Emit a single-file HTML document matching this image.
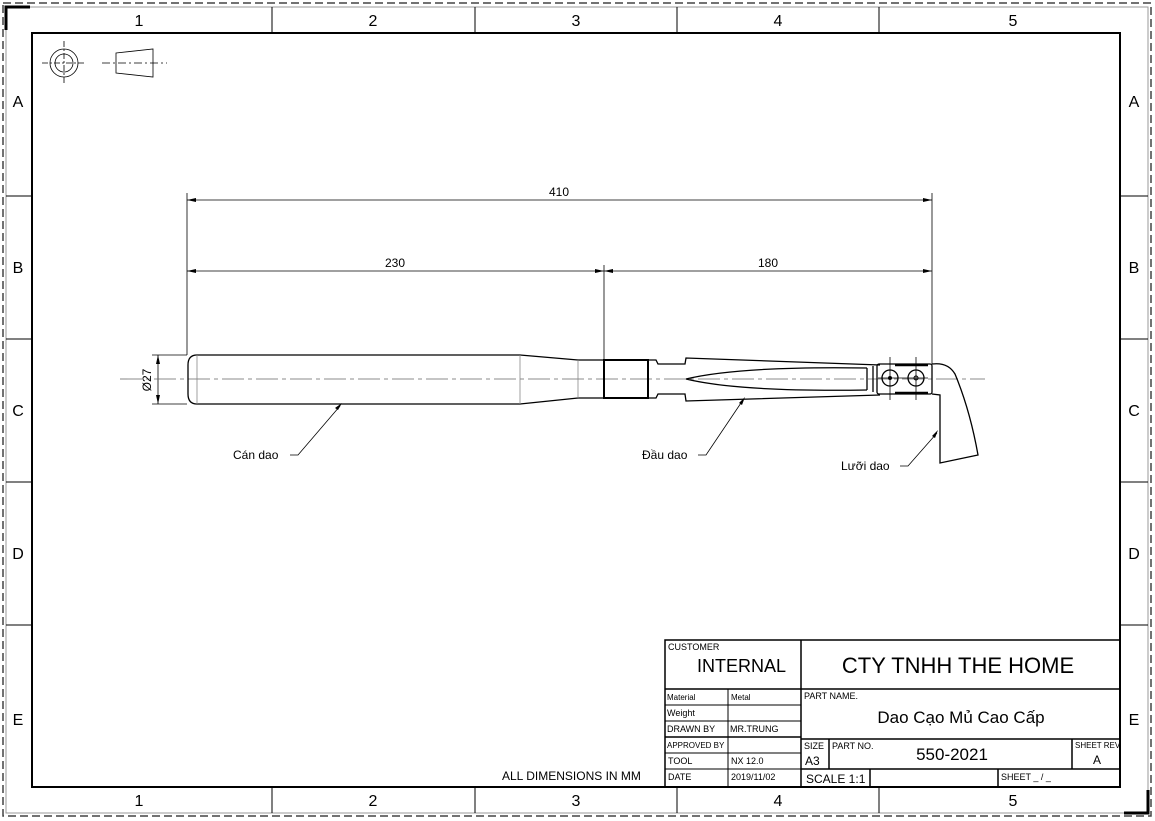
<!DOCTYPE html>
<html><head><meta charset="utf-8"><style>
html,body{margin:0;padding:0;background:#fff}
svg{display:block}
text{font-family:"Liberation Sans",sans-serif;fill:#000}
</style></head><body>
<svg width="1155" height="821" viewBox="0 0 1155 821" xmlns="http://www.w3.org/2000/svg">
<rect x="3" y="3" width="1148" height="813" fill="none" stroke="#444" stroke-width="1.5" stroke-dasharray="8,4"/>
<rect x="6" y="7" width="1142" height="806" fill="none" stroke="#999" stroke-width="1"/>
<path d="M6 30 V7 H30 M1124 813 H1148 V790" fill="none" stroke="#000" stroke-width="3"/>
<rect x="32" y="33" width="1088" height="754" fill="none" stroke="#000" stroke-width="2"/>
<g stroke="#000" stroke-width="1">
<line x1="272" y1="7" x2="272" y2="33"/><line x1="475" y1="7" x2="475" y2="33"/><line x1="677" y1="7" x2="677" y2="33"/><line x1="879" y1="7" x2="879" y2="33"/>
<line x1="272" y1="787" x2="272" y2="813"/><line x1="475" y1="787" x2="475" y2="813"/><line x1="677" y1="787" x2="677" y2="813"/><line x1="879" y1="787" x2="879" y2="813"/>
<line x1="6" y1="196" x2="32" y2="196"/><line x1="6" y1="339" x2="32" y2="339"/><line x1="6" y1="482" x2="32" y2="482"/><line x1="6" y1="625" x2="32" y2="625"/>
<line x1="1120" y1="196" x2="1148" y2="196"/><line x1="1120" y1="339" x2="1148" y2="339"/><line x1="1120" y1="482" x2="1148" y2="482"/><line x1="1120" y1="625" x2="1148" y2="625"/>
</g>
<g font-size="16" text-anchor="middle">
<text x="139" y="26">1</text><text x="373" y="26">2</text><text x="576" y="26">3</text><text x="778" y="26">4</text><text x="1013" y="26">5</text>
<text x="139" y="806">1</text><text x="373" y="806">2</text><text x="576" y="806">3</text><text x="778" y="806">4</text><text x="1013" y="806">5</text>
<text x="18" y="107">A</text><text x="18" y="273">B</text><text x="18" y="416">C</text><text x="18" y="559">D</text><text x="18" y="725">E</text>
<text x="1134" y="107">A</text><text x="1134" y="273">B</text><text x="1134" y="416">C</text><text x="1134" y="559">D</text><text x="1134" y="725">E</text>
</g>
<!-- projection symbol -->
<g fill="none" stroke="#000" stroke-width="0.8">
<circle cx="64" cy="63" r="14"/><circle cx="64" cy="63" r="9"/>
<line x1="42" y1="63" x2="86" y2="63" stroke-dasharray="6,2,2,2"/><line x1="64" y1="41" x2="64" y2="85" stroke-dasharray="6,2,2,2"/>
<path d="M116 53 L153 49 L153 77 L116 73 Z"/>
<line x1="102" y1="63" x2="167" y2="63" stroke-dasharray="8,3,2,3"/>
</g>
<!-- dimensions -->
<g stroke="#000" stroke-width="0.8" fill="none">
<line x1="187" y1="193" x2="187" y2="355"/><line x1="604" y1="265" x2="604" y2="360"/><line x1="932" y1="193" x2="932" y2="364"/>
<line x1="187" y1="200" x2="932" y2="200"/><line x1="187" y1="271" x2="932" y2="271"/>
<line x1="152" y1="355" x2="187" y2="355"/><line x1="152" y1="404" x2="187" y2="404"/><line x1="158" y1="355" x2="158" y2="404"/>
<line x1="120" y1="379" x2="985" y2="379" stroke="#666" stroke-dasharray="22,4,4,4"/>
</g>
<g fill="#000">
<path d="M187 200 l9 -2 v4z"/><path d="M932 200 l-9 -2 v4z"/>
<path d="M187 271 l9 -2 v4z"/><path d="M604 271 l-9 -2 v4z"/><path d="M604 271 l9 -2 v4z"/><path d="M932 271 l-9 -2 v4z"/>
<path d="M158 355 l-2 9 h4z"/><path d="M158 404 l-2 -9 h4z"/>
</g>
<g font-size="12" text-anchor="middle">
<text x="559" y="196">410</text><text x="395" y="267">230</text><text x="768" y="267">180</text>
<text transform="translate(151,380) rotate(-90)">Ø27</text>
</g>
<!-- part -->
<g fill="none" stroke="#000" stroke-width="1.3">
<path d="M197 355 H520 L578 360 H604 V398 H578 L520 404 H197 Q188 404 188 394 V365 Q188 355 197 355 Z"/>
<rect x="604" y="360" width="44" height="38" stroke-width="2"/>
<path d="M648 360 H656 L658 364 H685 L686 358 L880 365 M648 398 H656 L658 394 H685 L686 401 L880 395"/>
<path d="M686 379 Q740 366 867 368 M686 379 Q740 392 867 390"/>
<path d="M867 368 V390 M873 366 V392"/>
<rect x="877" y="364" width="55" height="30" rx="2"/>
<circle cx="890" cy="378" r="8"/><circle cx="916" cy="378" r="8"/>
<path d="M895 365 H928 M895 393 H928" stroke-width="2.5"/>
<path d="M932 364 Q948 362 955 374 Q970 410 978 455 L940 463 V395 L932 394"/>
</g>
<g stroke="#000" stroke-width="0.8"><line x1="890" y1="357" x2="890" y2="400"/><line x1="916" y1="357" x2="916" y2="400"/><line x1="878" y1="378" x2="928" y2="378"/></g>
<circle cx="890" cy="378" r="2" fill="#000"/><circle cx="916" cy="378" r="2" fill="none" stroke="#000"/>
<line x1="604" y1="340" x2="604" y2="420" stroke="none"/>
<g stroke="#888" stroke-width="0.8"><line x1="197" y1="355" x2="197" y2="404"/><line x1="520" y1="355" x2="520" y2="404"/><line x1="578" y1="360" x2="578" y2="398"/></g>
<!-- leaders -->
<g stroke="#000" stroke-width="0.8" fill="none">
<path d="M290 455 H298 L340 406"/><path d="M698 455 H706 L743 400"/><path d="M900 466 H908 L937 433"/>
</g>
<g fill="#000"><path d="M342 403 l-7 5 l3 2z"/><path d="M745 397 l-6 6 l3 2z"/><path d="M938 430 l-6 6 l3 2z"/></g>
<g font-size="12"><text x="233" y="459">Cán dao</text><text x="642" y="459">Đầu dao</text><text x="841" y="470">Lưỡi dao</text></g>
<text x="502" y="780" font-size="12">ALL DIMENSIONS IN MM</text>
<!-- title block -->
<g fill="none" stroke="#000" stroke-width="1.5">
<rect x="665" y="640" width="455" height="147"/>
<line x1="665" y1="689" x2="1120" y2="689"/>
<line x1="801" y1="640" x2="801" y2="787"/>
<line x1="801" y1="739" x2="1120" y2="739"/>
<line x1="801" y1="769" x2="1120" y2="769"/>
<line x1="665" y1="737" x2="801" y2="737"/>
<line x1="829" y1="739" x2="829" y2="769"/>
<line x1="1072" y1="739" x2="1072" y2="769"/>
<line x1="870" y1="769" x2="870" y2="787"/>
<line x1="998" y1="769" x2="998" y2="787"/>
</g>
<g stroke="#000" stroke-width="1">
<line x1="665" y1="705" x2="801" y2="705"/><line x1="665" y1="721" x2="801" y2="721"/><line x1="665" y1="753" x2="801" y2="753"/><line x1="665" y1="769" x2="801" y2="769"/>
<line x1="728" y1="689" x2="728" y2="787"/>
</g>
<g font-size="9" fill="#333">
<text x="668" y="650">CUSTOMER</text>
<text x="667" y="700" font-size="8">Material</text><text x="731" y="700" font-size="8">Metal</text>
<text x="667" y="716">Weight</text>
<text x="667" y="732">DRAWN BY</text><text x="730" y="732">MR.TRUNG</text>
<text x="667" y="748" font-size="8">APPROVED BY</text>
<text x="668" y="764">TOOL</text><text x="731" y="764">NX 12.0</text>
<text x="668" y="780">DATE</text><text x="731" y="780">2019/11/02</text>
<text x="804" y="699">PART NAME.</text>
<text x="804" y="749">SIZE</text><text x="832" y="749">PART NO.</text>
<text x="1075" y="748" font-size="8">SHEET REV</text>
<text x="1001" y="780">SHEET _ / _</text>
</g>
<text x="697" y="672" font-size="18">INTERNAL</text>
<text x="958" y="673" font-size="22" text-anchor="middle">CTY TNHH THE HOME</text>
<text x="961" y="723" font-size="17" text-anchor="middle">Dao Cạo Mủ Cao Cấp</text>
<text x="952" y="760" font-size="17" text-anchor="middle">550-2021</text>
<text x="805" y="765" font-size="12">A3</text>
<text x="1097" y="764" font-size="12" text-anchor="middle">A</text>
<text x="806" y="783" font-size="12">SCALE 1:1</text>
</svg>
</body></html>
